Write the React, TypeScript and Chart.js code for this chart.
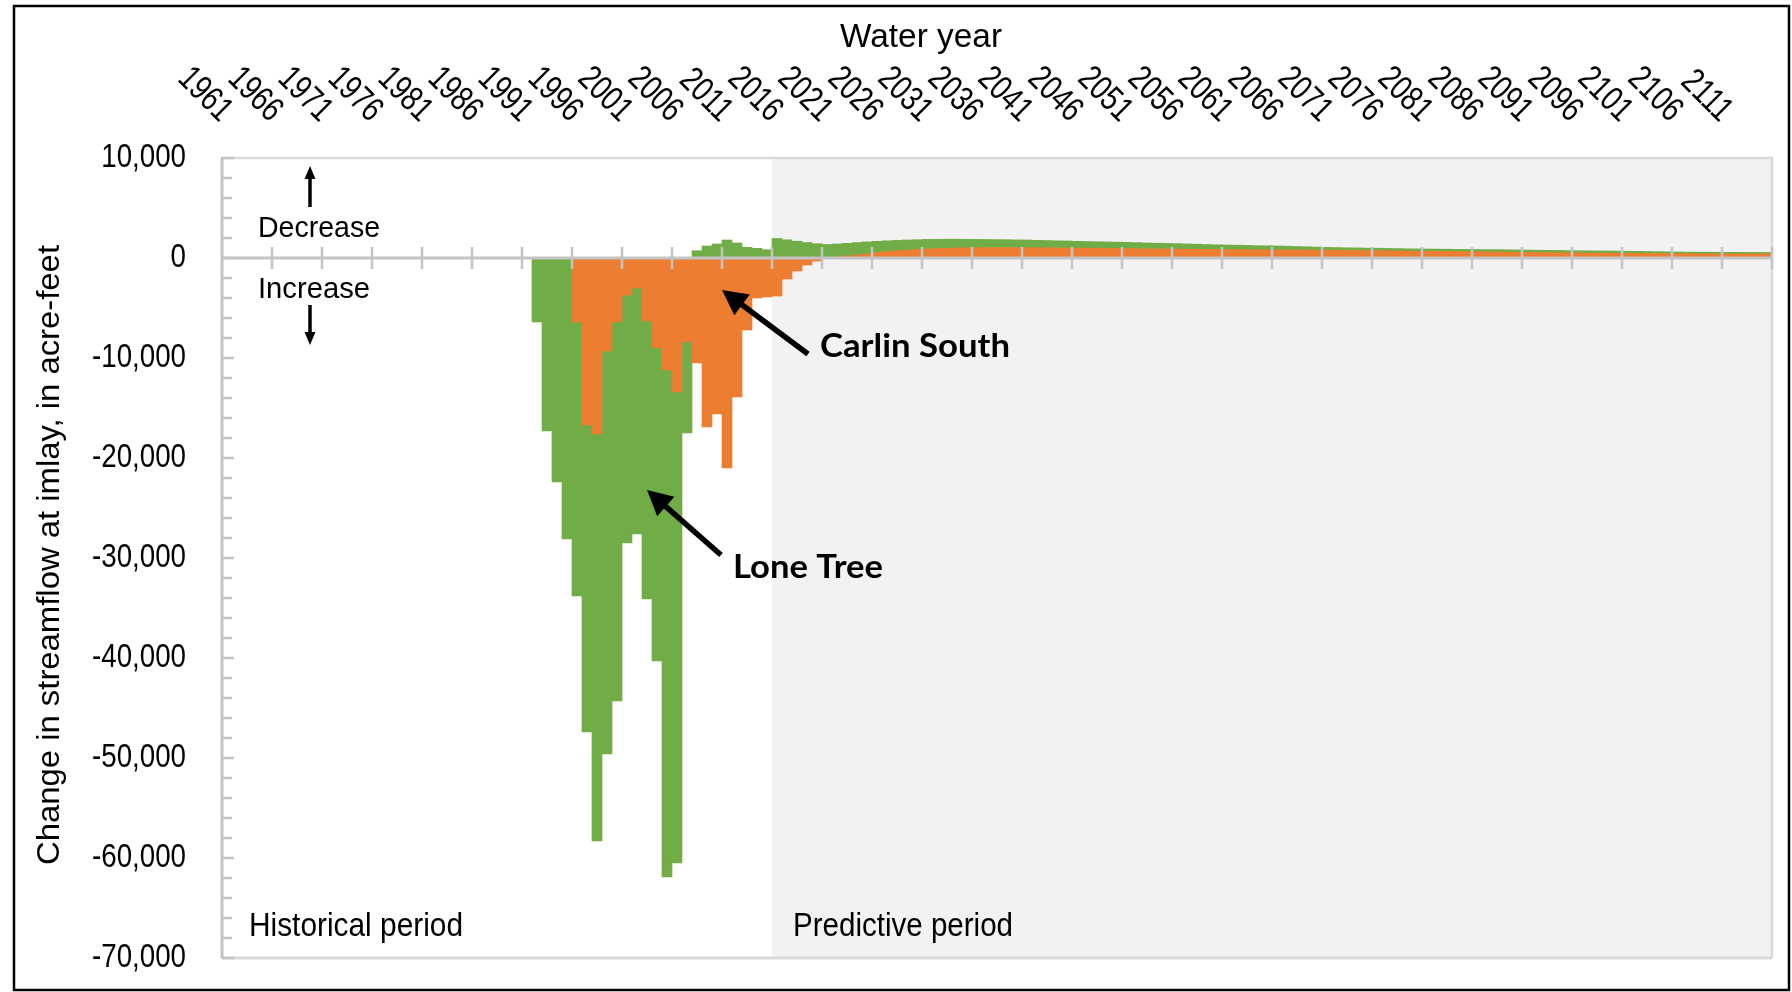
import React, { useEffect, useRef } from "react";
import { Chart, registerables } from "chart.js";

Chart.register(...registerables);

// ---------- DATA ----------
const firstYear = 1961;
const lastYear = 2115;
const years: string[] = [];
for (let y = firstYear; y <= lastYear; y++) years.push(String(y));

const predictiveStartYear = 2016;
const seriesStartYear = 1992;

// Carlin South (orange), water years 1992..2115, acre-feet
const carlinSouth: number[] = [
  0, 0, 0, 0, // 1992-1995
  -6400, -16700, -17600, -9300, -6400, -3700, -3000, -6300, -9000, -11200, // 1996-2005
  -13400, -8400, -10500, -16900, -15600, -21000, -13900, -7200, -4000, -3900, // 2006-2015
  -3800, -2100, -1300, -700, -300, 0, 100, 200, 300, 420, // 2016-2025
  560, 640, 720, 790, 850, 900, 940, 970, 1000, 1020, // 2026-2035
  1030, 1040, 1040, 1040, 1040, 1030, 1030, 1020, 1010, 1000, // 2036-2045
  990, 980, 970, 960, 950, 940, 930, 920, 910, 900, // 2046-2055
  890, 880, 870, 860, 850, 840, 835, 830, 825, 820, // 2056-2065
  815, 810, 805, 800, 795, 790, 775, 760, 750, 740, // 2066-2075
  730, 720, 705, 695, 680, 670, 660, 650, 640, 630, // 2076-2085
  620, 610, 600, 585, 570, 560, 550, 540, 530, 520, // 2086-2095
  510, 500, 490, 480, 470, 460, 455, 450, 445, 440, // 2096-2105
  435, 430, 425, 420, 415, 410, 405, 400, 400, 400, // 2106-2115
];

// Lone Tree (green), water years 1992..2115, acre-feet
const loneTree: number[] = [
  -6400, -17300, -22400, -28100, // 1992-1995
  -27400, -30700, -40700, -40300, -37900, -24800, -24600, -27800, -31300, -50700, // 1996-2005
  -47100, -9100, 730, 1200, 1400, 1800, 1500, 1070, 970, 830, // 2006-2015
  1950, 1820, 1680, 1550, 1430, 1350, 1300, 1270, 1240, 1190, // 2016-2025
  1110, 1080, 1040, 1010, 980, 960, 930, 910, 880, 850, // 2026-2035
  830, 810, 800, 790, 770, 770, 740, 730, 710, 700, // 2036-2045
  680, 670, 660, 650, 640, 630, 610, 580, 570, 560, // 2046-2055
  550, 530, 510, 490, 470, 460, 450, 430, 410, 400, // 2056-2065
  390, 370, 340, 320, 300, 270, 270, 260, 260, 250, // 2066-2075
  250, 240, 240, 230, 230, 230, 230, 230, 230, 230, // 2076-2085
  230, 230, 240, 240, 240, 240, 230, 230, 230, 220, // 2086-2095
  220, 220, 220, 220, 220, 220, 210, 200, 190, 180, // 2096-2105
  170, 160, 160, 160, 160, 160, 160, 160, 160, 160, // 2106-2115
];

const xTickLabelYears: number[] = [
  1961, 1966, 1971, 1976, 1981, 1986, 1991, 1996, 2001, 2006, 2011, 2016, 2021, 2026, 2031, 2036,
  2041, 2046, 2051, 2056, 2061, 2066, 2071, 2076, 2081, 2086, 2091, 2096, 2101, 2106, 2111,
];

const yMin = -70000;
const yMax = 10000;
const yLabelStep = 10000;
const yMinorStep = 2000;
const xTickEvery = 5;

const COLORS = {
  carlin: "#ED7D31",
  lone: "#70AD47",
  predictive: "#F2F2F2",
  axis: "#C4C4C4",
  border: "#D9D9D9",
};

const SANS = '"Liberation Sans", Arial, sans-serif';

function padSeries(arr: number[]): (number | null)[] {
  return years.map((y) => {
    const k = Number(y) - seriesStartYear;
    return k >= 0 && k < arr.length ? arr[k] : null;
  });
}

function fitText(
  ctx: CanvasRenderingContext2D,
  text: string,
  x: number,
  y: number,
  font: string,
  width: number,
  align: CanvasTextAlign,
  baseline: CanvasTextBaseline,
  rotation = 0
) {
  ctx.save();
  ctx.font = font;
  const w = ctx.measureText(text).width;
  const sx = width / w;
  ctx.translate(x, y);
  if (rotation) ctx.rotate(rotation);
  ctx.scale(sx, 1);
  ctx.textAlign = align;
  ctx.textBaseline = baseline;
  ctx.fillStyle = "#000";
  ctx.fillText(text, 0, 0);
  ctx.restore();
}

function arrow(
  ctx: CanvasRenderingContext2D,
  x1: number,
  y1: number,
  x2: number,
  y2: number,
  lw: number,
  headLen: number,
  headW: number
) {
  const ang = Math.atan2(y2 - y1, x2 - x1);
  const bx = x2 - headLen * Math.cos(ang);
  const by = y2 - headLen * Math.sin(ang);
  ctx.save();
  ctx.strokeStyle = "#000";
  ctx.fillStyle = "#000";
  ctx.lineWidth = lw;
  ctx.lineCap = "butt";
  ctx.beginPath();
  ctx.moveTo(x1, y1);
  ctx.lineTo(bx + Math.cos(ang), by + Math.sin(ang));
  ctx.stroke();
  ctx.beginPath();
  ctx.moveTo(x2, y2);
  ctx.lineTo(bx + (headW / 2) * Math.sin(ang), by - (headW / 2) * Math.cos(ang));
  ctx.lineTo(bx - (headW / 2) * Math.sin(ang), by + (headW / 2) * Math.cos(ang));
  ctx.closePath();
  ctx.fill();
  ctx.restore();
}

const overlayPlugin = {
  id: "overlay",
  beforeDraw(chart: any) {
    const { ctx, chartArea: ca, scales } = chart;
    const xs = scales.x;
    ctx.save();
    ctx.fillStyle = "#fff";
    ctx.fillRect(0, 0, chart.width, chart.height);
    const step = xs.getPixelForValue(1) - xs.getPixelForValue(0);
    const pIdx = years.indexOf(String(predictiveStartYear));
    const px = xs.getPixelForValue(pIdx) - step / 2;
    ctx.fillStyle = COLORS.predictive;
    ctx.fillRect(px, ca.top, ca.right - px, ca.bottom - ca.top);
    ctx.restore();
  },
  afterDatasetsDraw(chart: any) {
    const { ctx, chartArea: ca, scales } = chart;
    const xs = scales.x;
    const ys = scales.y;
    const step = xs.getPixelForValue(1) - xs.getPixelForValue(0);
    ctx.save();
    // plot border (top, right, bottom)
    ctx.strokeStyle = COLORS.border;
    ctx.lineWidth = 2.5;
    ctx.beginPath();
    ctx.moveTo(ca.left, ca.top);
    ctx.lineTo(ca.right, ca.top);
    ctx.lineTo(ca.right, ca.bottom);
    ctx.stroke();
    ctx.lineWidth = 3;
    ctx.beginPath();
    ctx.moveTo(ca.left, ca.bottom);
    ctx.lineTo(ca.right, ca.bottom);
    ctx.stroke();

    // y axis line and inward tick marks
    ctx.strokeStyle = COLORS.axis;
    ctx.lineWidth = 3;
    ctx.beginPath();
    ctx.moveTo(ca.left, ca.top - 1);
    ctx.lineTo(ca.left, ca.bottom);
    ctx.stroke();
    ctx.lineWidth = 2.5;
    for (let v = yMax; v >= yMin; v -= yMinorStep) {
      const py = ys.getPixelForValue(v);
      const len = v % yLabelStep === 0 ? 12 : 10;
      ctx.beginPath();
      ctx.moveTo(ca.left, py);
      ctx.lineTo(ca.left + len, py);
      ctx.stroke();
    }

    // zero line with category ticks every 5 years
    const y0 = ys.getPixelForValue(0);
    ctx.lineWidth = 3;
    ctx.beginPath();
    ctx.moveTo(ca.left, y0);
    ctx.lineTo(ca.right, y0);
    ctx.stroke();
    ctx.lineWidth = 2.5;
    for (let k = xTickEvery; k <= years.length; k += xTickEvery) {
      const px = xs.getPixelForValue(k - 1) + step / 2;
      ctx.beginPath();
      ctx.moveTo(px, y0 - 11);
      ctx.lineTo(px, y0 + 11);
      ctx.stroke();
    }
    ctx.restore();
  },
  afterDraw(chart: any) {
    const { ctx, scales, chartArea: ca } = chart;
    const xs = scales.x;
    const ys = scales.y;
    ctx.save();
    ctx.fillStyle = "#000";

    // y tick labels (condensed), from the y scale's ticks
    ctx.font = `33px ${SANS}`;
    ys.ticks.forEach((t: any) => {
      const py = ys.getPixelForValue(t.value);
      ctx.save();
      ctx.translate(ca.left - 36, py);
      ctx.scale(0.84, 1);
      ctx.textAlign = "right";
      ctx.textBaseline = "middle";
      ctx.fillText(Number(t.value).toLocaleString("en-US"), 0, 0);
      ctx.restore();
    });

    // x tick labels (rotated, top)
    ctx.font = `35px ${SANS}`;
    xTickLabelYears.forEach((yr) => {
      const idx = years.indexOf(String(yr));
      const cx = xs.getPixelForValue(idx);
      ctx.save();
      ctx.translate(cx - 7.5, 123);
      ctx.rotate(Math.PI / 4);
      ctx.scale(0.78, 1);
      ctx.textAlign = "right";
      ctx.textBaseline = "alphabetic";
      ctx.fillText(String(yr), 0, 0);
      ctx.restore();
    });

    // axis titles
    fitText(ctx, "Water year", 921, 47, `34px ${SANS}`, 162, "center", "alphabetic");
    fitText(
      ctx,
      "Change in streamflow at imlay, in acre-feet",
      50,
      555,
      `32px ${SANS}`,
      620,
      "center",
      "middle",
      -Math.PI / 2
    );

    // decrease / increase
    fitText(ctx, "Decrease", 258, 237, `30px ${SANS}`, 122, "left", "alphabetic");
    fitText(ctx, "Increase", 258, 298, `30px ${SANS}`, 112, "left", "alphabetic");
    arrow(ctx, 310, 207, 310, 166, 3.5, 13, 11);
    arrow(ctx, 310, 305, 310, 345, 3.5, 13, 11);

    // periods
    fitText(ctx, "Historical period", 249, 936, `34px ${SANS}`, 214, "left", "alphabetic");
    fitText(ctx, "Predictive period", 793, 936, `34px ${SANS}`, 220, "left", "alphabetic");

    // series callouts
    fitText(ctx, "Carlin South", 820, 357, `bold 32px Lato, "Open Sans", sans-serif`, 190, "left", "alphabetic");
    fitText(ctx, "Lone Tree", 733, 578, `bold 32px Lato, "Open Sans", sans-serif`, 150, "left", "alphabetic");
    arrow(ctx, 808, 354, 722, 290, 5.5, 25, 26);
    arrow(ctx, 721, 555, 647, 490, 5.5, 25, 26);

    // outer frame
    ctx.strokeStyle = "#000";
    ctx.lineWidth = 2.5;
    ctx.strokeRect(14, 6, 1775, 984);
    ctx.restore();
  },
};

export default function App() {
  const canvasRef = useRef<HTMLCanvasElement | null>(null);

  useEffect(() => {
    if (!canvasRef.current) return;
    const chart = new Chart(canvasRef.current, {
      type: "bar",
      data: {
        labels: years,
        datasets: [
          {
            label: "Carlin South",
            data: padSeries(carlinSouth),
            backgroundColor: COLORS.carlin,
            borderWidth: 0,
            barPercentage: 1,
            categoryPercentage: 1,
          },
          {
            label: "Lone Tree",
            data: padSeries(loneTree),
            backgroundColor: COLORS.lone,
            borderWidth: 0,
            barPercentage: 1,
            categoryPercentage: 1,
          },
        ],
      },
      options: {
        responsive: false,
        animation: false,
        devicePixelRatio: 1,
        layout: { padding: { left: 0, right: 20, top: 0, bottom: 34 } },
        plugins: {
          legend: { display: false },
          tooltip: { enabled: false },
          title: { display: false },
        },
        scales: {
          x: {
            type: "category",
            position: "top",
            stacked: true,
            offset: true,
            grid: { display: false },
            border: { display: false },
            ticks: { display: false },
            afterFit: (s: any) => {
              s.height = 158;
              s.paddingLeft = 0;
              s.paddingRight = 0;
            },
          },
          y: {
            stacked: true,
            min: yMin,
            max: yMax,
            grid: { display: false },
            border: { display: false },
            ticks: { stepSize: yLabelStep, display: false },
            afterFit: (s: any) => {
              s.width = 222;
              s.paddingTop = 0;
              s.paddingBottom = 0;
            },
          },
        },
      },
      plugins: [overlayPlugin],
    });
    return () => chart.destroy();
  }, []);

  return (
    <div style={{ position: "absolute", left: 0, top: 0, width: 1792, height: 992 }}>
      <canvas ref={canvasRef} width={1792} height={992} style={{ width: 1792, height: 992, display: "block" }} />
    </div>
  );
}
